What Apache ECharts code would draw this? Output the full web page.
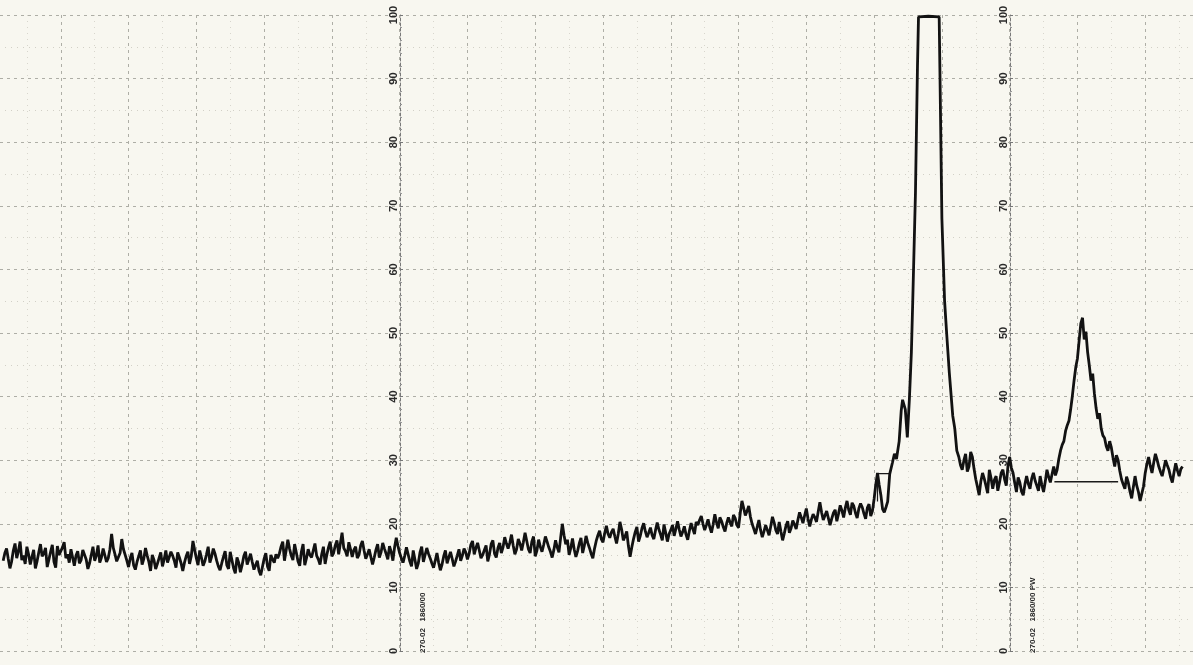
<!DOCTYPE html>
<html>
<head>
<meta charset="utf-8">
<script src="https://cdn.jsdelivr.net/npm/echarts@6/dist/echarts.min.js"></script>
<style>
html,body{margin:0;padding:0;background:#f8f7f0;}
#c{width:1193px;height:665px;}
</style>
</head>
<body>
<div id="c"></div>
<script>
// ---- data (x in chart divisions, y in percent of full scale) ----
var yTicks = [0,10,20,30,40,50,60,70,80,90,100];
var noiseStart = -5.85, noiseStep = 0.025;
var noiseA = [14.2,15.4,16.1,14.5,13.0,14.1,15.8,16.9,14.6,15.7,17.2,14.3,15.0,13.7,16.4,15.2,13.6,14.8,15.9,13.0,
  14.1,15.5,16.8,14.9,15.3,16.2,13.2,14.4,15.6,16.7,14.0,13.1,16.5,15.1,14.8,16.3,17.1,14.6,15.2,13.9,
  16.0,14.7,13.4,15.0,15.7,13.8,14.3,15.9,16.2,14.4,12.9,13.8,15.1,16.4,14.2,15.0,16.6,13.9,14.7,16.1,
  15.9,14.0,14.6,16.0,18.4,16.2,15.2,14.1,13.8,15.4,17.6,16.0,15.1,14.2,13.2,14.6,15.4,13.5,12.8,14.0,
  14.9,15.8,13.6,14.5,16.2,15.0,14.0,12.6,15.1,14.3,12.9,13.7,14.6,15.5,13.3,14.4,15.8,13.9,14.1];
var noiseB = [15.6,15.0,14.2,13.1,15.5,14.7,13.8,12.6,13.9,14.9,15.6,13.7,14.9,17.3,15.9,14.6,13.5,15.8,14.7,13.4,
  14.1,15.2,16.4,13.9,14.8,16.1,15.3,14.2,13.3,12.7,13.8,14.8,15.7,13.5,12.9,15.6,14.3,13.0,12.2,14.7,
  13.9,12.4,13.5,14.9,15.6,13.6,14.4,15.3,14.0,12.8,13.5,14.2,12.6,11.9,13.2,14.5,15.4,13.3,12.6,15.1,
  14.4,13.9,15.2,14.6,15.3,16.4,17.2,14.2,15.8,17.5,16.1,15.0,14.3,16.8,15.5,14.1,13.4,15.6,16.8,13.5,
  14.6,16.0,15.1,14.7,15.8,16.9,15.0,14.4,13.6,15.2,16.4,13.7,15.1,16.3,17.2,14.9,15.4,16.6,17.4,15.2];
var noiseC = [16.9,18.6,16.2,15.7,14.9,17.1,16.0,14.8,15.9,16.4,14.6,15.1,16.6,17.3,15.8,14.5,15.2,16.0,14.8,13.6,
  14.7,15.9,16.8,14.7,15.5,17.0,16.1,15.3,14.4,16.5,15.6,14.2,16.3,17.8,16.5,15.4,14.6,13.9,15.0,16.3,
  15.2,14.1,13.3,15.8,14.4,12.9,13.8,15.5,16.4,14.0,15.1,16.2,15.3,14.6,13.8,13.1,14.2,15.4,13.9,12.7,
  13.6,14.9,15.8,13.8,14.7,15.6,14.5,13.3,14.1,15.0,16.0,14.2,15.0,16.1,15.5,14.4,15.3,16.7,17.3,15.2,
  16.2,17.0,15.8,14.6,15.1,15.9,16.6,14.1,15.2,16.8,17.4,15.3,14.7,16.2,17.0,15.4,16.3,17.9,16.9,16.1];
var noiseD = [17.0,18.3,16.6,15.2,16.0,17.6,16.9,15.8,17.1,18.6,17.3,16.0,15.4,17.2,18.0,14.9,15.8,17.5,16.4,15.6,
  16.7,18.0,17.2,16.3,15.6,14.7,15.9,17.4,16.3,15.5,17.8,20.0,18.2,16.8,17.5,15.1,16.2,17.7,16.0,14.8,
  15.7,16.9,17.8,15.4,16.6,18.1,17.0,16.2,15.3,14.6,16.1,17.3,18.2,18.9,17.6,17.1,18.5,19.7,18.4,17.8,
  18.7,19.2,18.0,16.9,18.4,20.3,19.1,17.4,18.0,18.8,16.5,14.8,16.3,17.6,18.7,19.5,17.2,18.1,19.3,20.1,
  18.8,17.9,18.6,19.4,18.2,17.6,19.0,20.2,19.1,18.3,17.4,19.9,18.6,17.2,18.4,19.0,19.8,18.1,19.2,20.4];
var noiseE = [19.1,18.0,18.7,19.6,18.3,17.5,18.9,20.1,19.2,18.4,20.3,19.8,20.6,21.2,20.0,19.0,19.8,20.7,19.5,18.6,
  19.9,21.5,20.2,19.3,21.0,20.4,19.5,18.8,20.1,21.0,20.2,19.6,21.4,20.9,19.8,19.4,21.7,23.6,22.5,21.3,
  22.0,22.8,21.1,20.0,19.2,18.4,19.5,20.6,19.0,17.9,18.8,19.8,19.0,18.2,19.6,21.1,20.2,19.0,18.4,20.3,
  18.8,17.4,18.5,19.7,20.4,18.6,19.3,20.5,19.9,19.2,20.6,21.8,21.0,20.1,21.3,22.4,20.8,19.6,20.7,21.5,
  21.0,20.3,21.9,23.4,21.8,20.6,21.3,22.0,20.9,19.8,20.8,21.7,22.2,20.4,21.6,22.9,22.1,21.0,22.5,23.6];
var noiseF = [22.2,21.4,23.3,22.8,21.7,20.9,22.4,23.2,22.6,21.6,20.8,22.5,23.1,21.2,22.0,23.9,26.2,28.0,26.1,24.5,
  22.3,21.8,22.6,23.5];
var peakX = [7.23,7.27,7.30,7.33,7.37,7.40,7.42,7.46,7.49,7.52,7.55,7.57,7.61,7.64,7.655,7.80,7.96,7.975,8.00,8.04,8.07,8.11,8.16,8.19,8.22];
var peakY = [27.8,29.6,31.0,30.2,33.0,37.8,39.5,38.0,33.6,39.5,47.0,55.0,72.0,92.0,99.7,99.8,99.7,88.0,68.0,55.0,50.0,43.7,37.0,35.0,31.5];
var tailStart = 8.25, tailStep = 0.025;
var tail = [30.5,29.2,28.5,30.0,31.0,28.2,29.0,31.3,30.5,28.6,27.0,25.8,24.5,26.7,28.0,27.1,26.0,24.8,28.5,27.2,
  25.5,26.9,27.5,25.2,26.5,28.0,28.5,27.0,26.0,29.1,30.5,28.8,28.0,26.4,25.0,27.3,26.5,25.1,24.5,26.2,
  27.5,26.3,25.5,27.1,28.0,26.8,26.0,25.2,27.5,26.1,25.0,26.6,28.5,27.4,26.5,27.8,29.0,27.6,28.5,30.2,
  31.5,32.4,33.0,34.6,35.5,36.2,38.0,40.1,42.5,44.6,46.0,48.8,51.5,52.4,49.0,50.2,47.0,44.9,42.5,43.6,
  40.5,38.2,36.5,37.4,35.0,33.9,33.5,32.2,31.5,33.0,32.0,30.4,29.0,30.8,30.0,28.3,27.0,26.2,25.5,27.4,
  26.5,25.1,24.0,25.8,27.5,26.0,25.0,23.6,23.5,25.9,28.0,29.4,30.5,29.1,28.0,29.6,31.0,30.1,29.0,28.2,
  27.5,28.7,30.0,29.2,28.5,27.3,26.5,28.1,29.5,28.4,27.5,28.6,29.0];
var baseline2X = [9.66,10.60], baseline2Y = [26.6,26.6];
var bracketX = [7.05,7.05,7.24], bracketY = [23.5,27.9,27.9];
var chartNotes = ['270-02   1860/00', '270-02   1860/00 PW'];

// ---- build series data ----
var trace = [];
[noiseA,noiseB,noiseC,noiseD,noiseE,noiseF].reduce(function(a,b){return a.concat(b);},[])
  .forEach(function(v,i){ trace.push([+(noiseStart+i*noiseStep).toFixed(4), v]); });
peakX.forEach(function(x,i){ trace.push([x, peakY[i]]); });
tail.forEach(function(v,i){ trace.push([+(tailStart+i*tailStep).toFixed(4), v]); });
function pairs(xs, ys){ return xs.map(function(x,i){return [x, ys[i]];}); }

var labelFont = {fontFamily:'Liberation Sans', fontSize:11, fontWeight:'bold', color:'#2a2a2a'};
// grid-only axis (horizontal rulings every 10 with dotted rulings every 5)
var gridY = {
  type:'value', min:0, max:100, interval:10, position:'left', offset:0,
  axisLine:{show:false}, axisTick:{show:false}, axisLabel:{show:false},
  minorTick:{show:false, splitNumber:2},
  splitLine:{show:true, lineStyle:{color:'#aeaea6', type:[3,4], width:1}},
  minorSplitLine:{show:true, lineStyle:{color:'#d2d0c7', type:[1,5], width:1}}
};
function scaleAx(offset){
  return {
    type:'value', min:0, max:100, interval:10, position:'left', offset:offset,
    axisLine:{show:true, lineStyle:{color:'#7a7a7a', width:1, type:[3,2]}},
    axisTick:{show:true, inside:true, length:3, lineStyle:{color:'#777'}},
    minorTick:{show:true, splitNumber:5, length:2, lineStyle:{color:'#999'}},
    axisLabel:Object.assign({rotate:90, margin:1, formatter:function(v){return yTicks.indexOf(v)>=0?String(v):'';}}, labelFont),
    splitLine:{show:false}, minorSplitLine:{show:false}
  };
}

var chart = echarts.init(document.getElementById('c'), null, {renderer:'canvas'});
chart.setOption({
  backgroundColor:'#f8f7f0',
  animation:false,
  grid:{left:-7, top:15, width:1220, height:636, containLabel:false, outerBoundsMode:'none'},
  xAxis:{type:'value', min:-6, max:12, interval:1,
    axisLine:{show:false}, axisTick:{show:false}, axisLabel:{show:false},
    splitLine:{show:true, lineStyle:{color:'#aeaea6', type:[3,4], width:1}},
    minorTick:{show:false, splitNumber:2},
    minorSplitLine:{show:true, lineStyle:{color:'#d8d6cd', type:[1,5], width:1}}
  },
  yAxis:[gridY, scaleAx(-407), scaleAx(-1017)],
  series:[
    {type:'line', data:trace, showSymbol:false, lineStyle:{color:'#121212', width:2.8}, z:5},
    {type:'line', data:pairs(baseline2X, baseline2Y), showSymbol:false, lineStyle:{color:'#1a1a1a', width:1.5}, z:4},
    {type:'line', data:pairs(bracketX, bracketY), showSymbol:false, lineStyle:{color:'#1a1a1a', width:1.2}, z:4}
  ],
  graphic:[
    {type:'text', x:423, y:653, rotation:Math.PI/2,
      style:{text:chartNotes[0], fill:'#2a2a2a', font:'bold 8px "Liberation Sans"', textAlign:'left', textVerticalAlign:'middle'}},
    {type:'text', x:1033, y:653, rotation:Math.PI/2,
      style:{text:chartNotes[1], fill:'#2a2a2a', font:'bold 8px "Liberation Sans"', textAlign:'left', textVerticalAlign:'middle'}}
  ]
});
</script>
</body>
</html>
